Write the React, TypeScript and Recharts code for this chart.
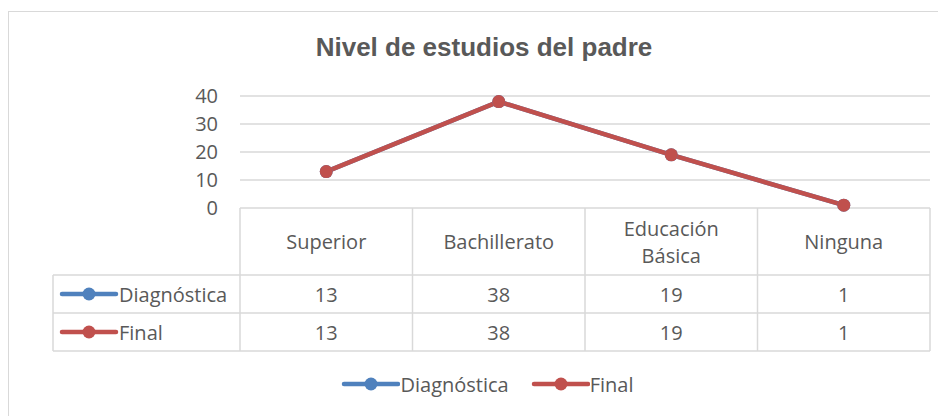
import { LineChart, Line, XAxis, YAxis, CartesianGrid, Legend } from "recharts";

const categories = ["Superior", "Bachillerato", "Educación Básica", "Ninguna"];
const diagnostica = [13, 38, 19, 1];
const final = [13, 38, 19, 1];
const yTicks = [0, 10, 20, 30, 40];

const series = [
  { key: "diagnostica", name: "Diagnóstica", color: "#4F81BD", values: diagnostica },
  { key: "final", name: "Final", color: "#C0504D", values: final },
];

const data = categories.map((c, i) => ({
  category: c,
  diagnostica: diagnostica[i],
  final: final[i],
}));

const TEXT = "#595959";
const GRID = "#d9d9d9";
const FONT = "'Open Sans', Calibri, sans-serif";
const FS = 20;

// table geometry, measured down from the x axis line
const HEADER_H = 67;
const ROW_H = 38;
const LABEL_COL_W = 187;

function wrapLabel(s: string) {
  return s.length > 12 && s.includes(" ") ? s.split(" ") : [s];
}

function KeyIcon({ x, y, color }: { x: number; y: number; color: string }) {
  return (
    <g>
      <line x1={x} y1={y} x2={x + 54} y2={y} stroke={color} strokeWidth={4.5} strokeLinecap="round" />
      <circle cx={x + 27} cy={y} r={6.5} fill={color} />
    </g>
  );
}

function TableTick(props: any) {
  const { x, y, payload, visibleTicksCount } = props;
  const half = payload.offset;
  const idx = payload.index;
  const lines = wrapLabel(payload.value);
  const bottom = y + HEADER_H + ROW_H * series.length;
  const textProps = { fill: TEXT, fontSize: FS, fontFamily: FONT, textAnchor: "middle" as const, dominantBaseline: "central" as const };

  const plotLeft = x - half;
  const tableLeft = plotLeft - LABEL_COL_W;
  const tableRight = plotLeft + half * 2 * visibleTicksCount;

  return (
    <g>
      <line x1={x - half} y1={y} x2={x - half} y2={bottom} stroke={GRID} strokeWidth={1.5} />
      {idx === visibleTicksCount - 1 && (
        <line x1={x + half} y1={y} x2={x + half} y2={bottom} stroke={GRID} strokeWidth={1.5} />
      )}
      {lines.map((l, i) => (
        <text key={l} x={x} y={y + HEADER_H / 2 + (i - (lines.length - 1) / 2) * 27} {...textProps}>
          {l}
        </text>
      ))}
      {series.map((s, r) => (
        <text key={s.key} x={x} y={y + HEADER_H + ROW_H * r + ROW_H / 2} {...textProps}>
          {s.values[idx]}
        </text>
      ))}
      {idx === 0 && (
        <g>
          {series.map((s, r) => (
            <line
              key={"h" + s.key}
              x1={tableLeft}
              y1={y + HEADER_H + ROW_H * r}
              x2={tableRight}
              y2={y + HEADER_H + ROW_H * r}
              stroke={GRID}
              strokeWidth={1.5}
            />
          ))}
          <line x1={tableLeft} y1={bottom} x2={tableRight} y2={bottom} stroke={GRID} strokeWidth={1.5} />
          <line x1={tableLeft} y1={y + HEADER_H} x2={tableLeft} y2={bottom} stroke={GRID} strokeWidth={1.5} />
          {series.map((s, r) => {
            const cy = y + HEADER_H + ROW_H * r + ROW_H / 2;
            return (
              <g key={"k" + s.key}>
                <KeyIcon x={tableLeft + 9} y={cy} color={s.color} />
                <text x={tableLeft + 66} y={cy} fill={TEXT} fontSize={FS} fontFamily={FONT} dominantBaseline="central">
                  {s.name}
                </text>
              </g>
            );
          })}
        </g>
      )}
    </g>
  );
}

function LegendContent() {
  return (
    <div
      style={{
        display: "flex",
        justifyContent: "center",
        alignItems: "center",
        paddingTop: 22,
        paddingLeft: 21,
        gap: 22,
        fontFamily: FONT,
        fontSize: FS,
        color: TEXT,
      }}
    >
      {series.map((s) => (
        <div key={s.key} style={{ display: "flex", alignItems: "center", height: 22 }}>
          <svg width={59} height={22}>
            <KeyIcon x={3} y={11} color={s.color} />
          </svg>
          <span>{s.name}</span>
        </div>
      ))}
    </div>
  );
}

export default function App() {
  return (
    <div style={{ position: "relative", width: 938, height: 408, overflow: "hidden", background: "#fff" }}>
      <div
        style={{
          position: "absolute",
          top: 3,
          left: 0,
          width: 960,
          height: 430,
          borderTop: `1.5px solid ${GRID}`,
          borderLeft: `1.5px solid ${GRID}`,
        }}
      />
      <div
        style={{
          position: "absolute",
          top: 24,
          left: 10,
          width: 932,
          textAlign: "center",
          fontFamily: "'Liberation Sans', Arial, sans-serif",
          fontWeight: "bold",
          fontSize: 26,
          lineHeight: "30px",
          color: TEXT,
        }}
      >
        Nivel de estudios del padre
      </div>
      <LineChart
        width={938}
        height={408}
        data={data}
        margin={{ top: 88, right: 16, bottom: 0, left: 150 }}
        style={{ position: "absolute", top: 0, left: 0 }}
      >
        <CartesianGrid horizontal vertical={false} stroke={GRID} strokeWidth={1.5} />
        <XAxis
          dataKey="category"
          scale="band"
          axisLine={false}
          tickLine={false}
          tickSize={0}
          tickMargin={0}
          height={HEADER_H + ROW_H * series.length}
          interval={0}
          tick={<TableTick />}
        />
        <YAxis
          width={82}
          domain={[0, 40]}
          ticks={yTicks}
          axisLine={false}
          tickLine={false}
          tickMargin={16}
          tick={{ fill: TEXT, fontSize: FS, fontFamily: FONT }}
        />
        <Legend verticalAlign="bottom" height={65} wrapperStyle={{ left: 0, width: 938 }} content={<LegendContent />} />
        {series.map((s) => (
          <Line
            key={s.key}
            dataKey={s.key}
            name={s.name}
            stroke={s.color}
            strokeWidth={4.5}
            dot={{ r: 6.5, fill: s.color, stroke: s.color, strokeWidth: 0 }}
            activeDot={false}
            isAnimationActive={false}
          />
        ))}
      </LineChart>
    </div>
  );
}
